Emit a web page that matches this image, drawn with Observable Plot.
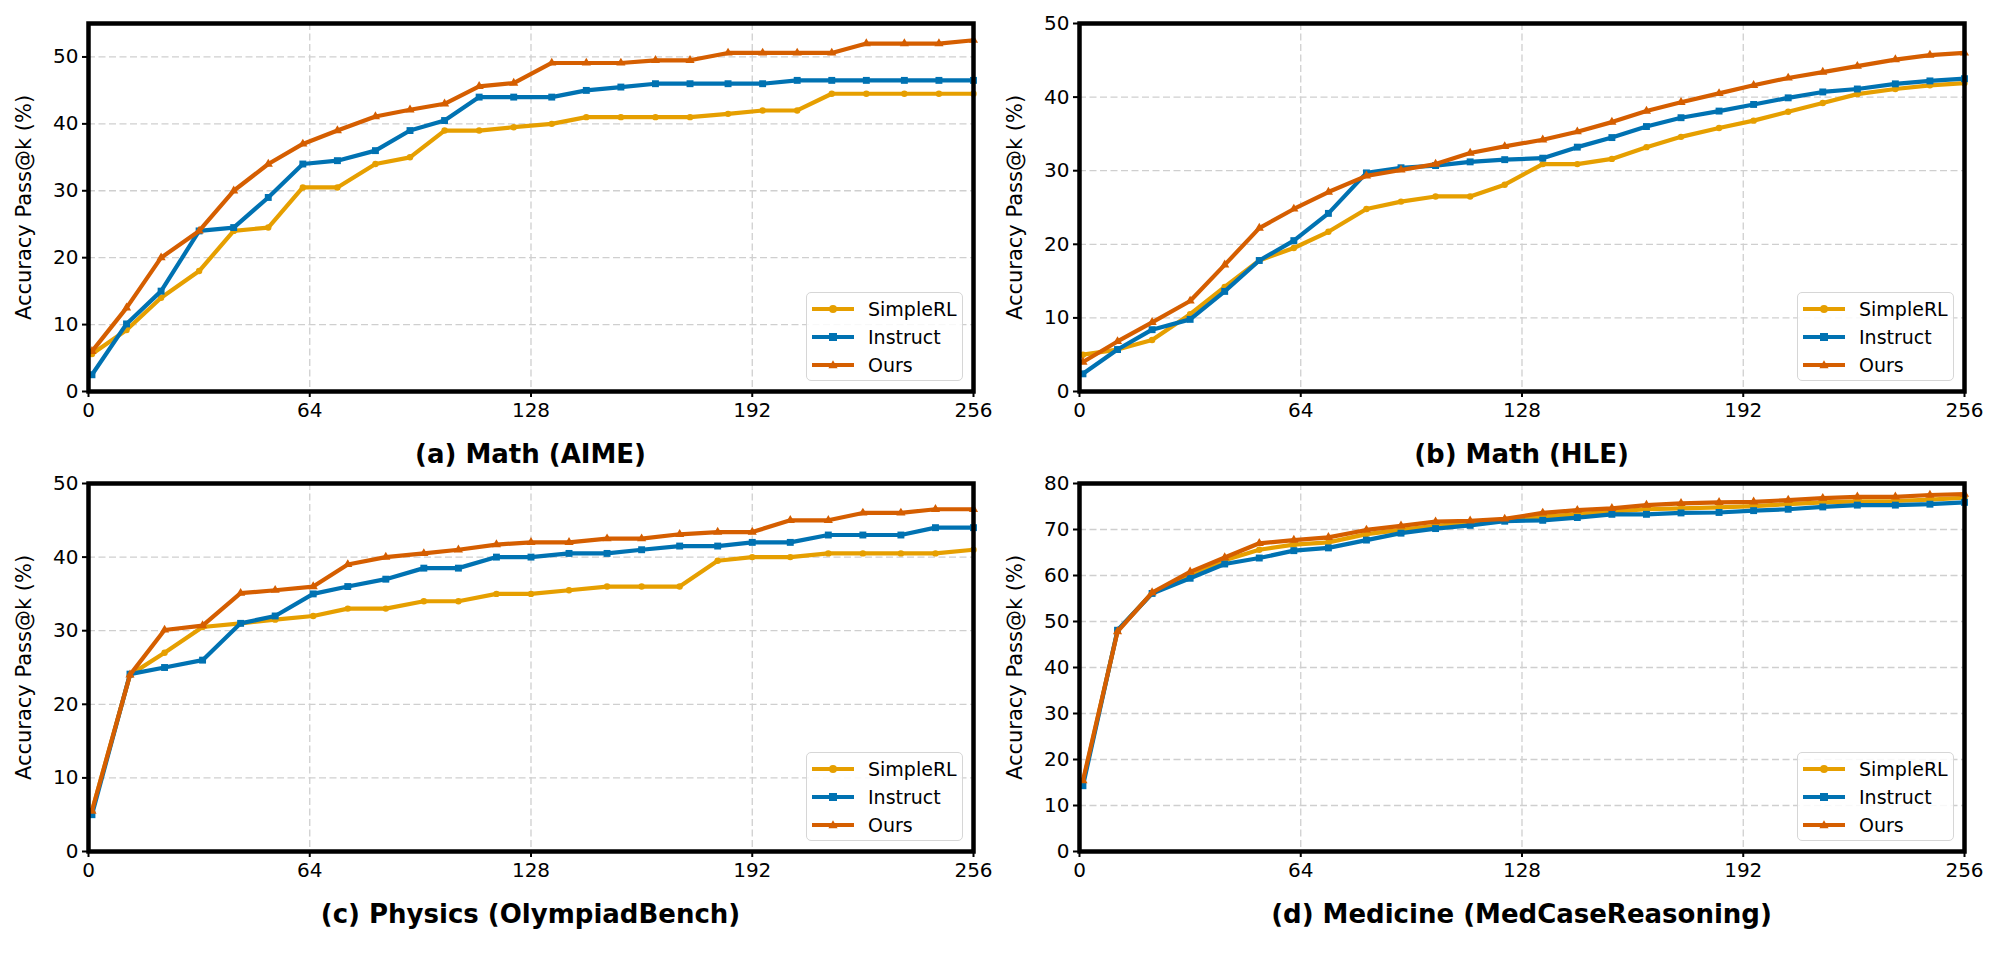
<!DOCTYPE html>
<html>
<head>
<meta charset="utf-8">
<script src="https://cdn.jsdelivr.net/npm/d3@7"></script>
<script src="https://cdn.jsdelivr.net/npm/@observablehq/plot@0.6"></script>
<style>
  html, body { margin: 0; padding: 0; background: #fff; }
  #root { position: relative; width: 2000px; height: 953px; font-family: "DejaVu Sans", sans-serif; }
  .panel { position: absolute; }
  .title { position: absolute; width: 885px; text-align: center; font-weight: bold; font-size: 26px; line-height: 30px; color: #000; }
  .legend { position: absolute; box-sizing: border-box; width: 157px; height: 89px; background: rgba(255,255,255,0.85);
            border: 1.5px solid #d6d6d6; border-radius: 5px; padding-top: 2px; }
  .legend .row { height: 28px; display: flex; align-items: center; }
  .legend svg { margin-left: 3px; margin-right: 12px; }
  .legend span { font-size: 19px; color: #000; }
</style>
</head>
<body>
<div id="root"></div>
<script>
// ---- data ----
const seriesNames = ["SimpleRL", "Instruct", "Ours"];
const seriesColors = ["#E69F00", "#0072B2", "#D55E00"];
const seriesSymbols = ["circle", "square", "triangle"];

const kValues26 = [1, 11, 21, 32, 42, 52, 62, 72, 83, 93, 103, 113, 123, 134, 144, 154, 164, 174, 185, 195, 205, 215, 225, 236, 246, 256];
const kValues25 = [1, 12, 22, 33, 44, 54, 65, 75, 86, 97, 107, 118, 128, 139, 150, 160, 171, 182, 192, 203, 214, 224, 235, 245, 256];
const xTicks = [0, 64, 128, 192, 256];

// (a) Math (AIME)
const aimeSimpleRL = [5.6, 9.2, 14, 18, 24, 24.5, 30.5, 30.5, 34, 35, 39, 39, 39.5, 40, 41, 41, 41, 41, 41.5, 42, 42, 44.5, 44.5, 44.5, 44.5, 44.5];
const aimeInstruct = [2.5, 10.1, 15, 24, 24.5, 29, 34, 34.5, 36, 39, 40.5, 44, 44, 44, 45, 45.5, 46, 46, 46, 46, 46.5, 46.5, 46.5, 46.5, 46.5, 46.5];
const aimeOurs     = [6, 12.5, 20, 24, 30, 34, 37, 39, 41.1, 42.1, 43, 45.6, 46.1, 49.1, 49.1, 49.1, 49.5, 49.5, 50.6, 50.6, 50.6, 50.6, 52, 52, 52, 52.5];
const aimeTicks = [0, 10, 20, 30, 40, 50];

// (b) Math (HLE)
const hleSimpleRL = [5.0, 5.7, 7.0, 10.5, 14.2, 17.8, 19.5, 21.7, 24.8, 25.8, 26.5, 26.5, 28.1, 30.9, 30.9, 31.6, 33.2, 34.6, 35.8, 36.8, 38.0, 39.2, 40.4, 41.1, 41.6, 41.9];
const hleInstruct = [2.4, 5.7, 8.4, 9.8, 13.6, 17.8, 20.5, 24.2, 29.7, 30.4, 30.7, 31.2, 31.5, 31.7, 33.2, 34.5, 36.0, 37.2, 38.1, 39.0, 39.9, 40.7, 41.1, 41.8, 42.2, 42.5];
const hleOurs     = [4.0, 6.8, 9.4, 12.3, 17.2, 22.2, 24.8, 27.1, 29.3, 30.1, 30.9, 32.4, 33.3, 34.2, 35.3, 36.6, 38.1, 39.3, 40.5, 41.6, 42.6, 43.4, 44.2, 45.1, 45.7, 46.0];
const hleTicks = [0, 10, 20, 30, 40, 50];

// (c) Physics (OlympiadBench)
const physSimpleRL = [5.5, 24, 27, 30.5, 31, 31.5, 32, 33, 33, 34, 34, 35, 35, 35.5, 36, 36, 36, 39.5, 40, 40, 40.5, 40.5, 40.5, 40.5, 41];
const physInstruct = [5, 24.1, 25, 26, 31, 32, 35, 36, 37, 38.5, 38.5, 40, 40, 40.5, 40.5, 41, 41.5, 41.5, 42, 42, 43, 43, 43, 44, 44];
const physOurs     = [5.5, 24, 30.1, 30.7, 35.1, 35.5, 36, 39, 40, 40.5, 41, 41.7, 42, 42, 42.5, 42.5, 43.1, 43.4, 43.4, 45, 45, 46, 46, 46.5, 46.5];
const physTicks = [0, 10, 20, 30, 40, 50];

// (d) Medicine (MedCaseReasoning)
const medSimpleRL = [15.0, 48.0, 56.2, 60.2, 63.3, 65.6, 66.7, 67.2, 69.0, 69.9, 70.8, 71.4, 72.0, 72.8, 73.3, 73.9, 74.4, 74.6, 74.8, 75.1, 75.5, 75.9, 76.1, 76.2, 76.5, 76.9];
const medInstruct = [14.3, 48.1, 56.1, 59.4, 62.5, 63.8, 65.4, 66.0, 67.7, 69.2, 70.2, 70.9, 71.8, 72.0, 72.6, 73.3, 73.3, 73.6, 73.7, 74.1, 74.4, 74.9, 75.3, 75.3, 75.5, 75.9];
const medOurs     = [15.4, 47.8, 56.3, 60.8, 63.9, 67.0, 67.7, 68.3, 69.9, 70.8, 71.7, 71.9, 72.3, 73.6, 74.2, 74.6, 75.3, 75.7, 75.9, 76.0, 76.4, 76.8, 77.1, 77.1, 77.5, 77.7];
const medTicks = [0, 10, 20, 30, 40, 50, 60, 70, 80];

const panels = [
  {title: "(a) Math (AIME)", k: kValues26, series: [aimeSimpleRL, aimeInstruct, aimeOurs], yMax: 55, yTicks: aimeTicks, left: 0, top: 0},
  {title: "(b) Math (HLE)", k: kValues26, series: [hleSimpleRL, hleInstruct, hleOurs], yMax: 50, yTicks: hleTicks, left: 991, top: 0},
  {title: "(c) Physics (OlympiadBench)", k: kValues25, series: [physSimpleRL, physInstruct, physOurs], yMax: 50, yTicks: physTicks, left: 0, top: 460},
  {title: "(d) Medicine (MedCaseReasoning)", k: kValues26, series: [medSimpleRL, medInstruct, medOurs], yMax: 80, yTicks: medTicks, left: 991, top: 460}
];

// ---- layout ----
const W = 1000, mL = 88, mR = 27, mT = 23, plotH = 368, mB = 45;
const H = mT + plotH + mB;
const root = document.getElementById("root");
const gridStyle = {stroke: "#cfcfcf", strokeOpacity: 1, strokeWidth: 1.3, strokeDasharray: "7,3.5"};

panels.forEach(p => {
  const marks = [
    Plot.gridX(xTicks.slice(1, -1), gridStyle),
    Plot.gridY(p.yTicks.slice(1, p.yMax === p.yTicks[p.yTicks.length - 1] ? -1 : undefined), gridStyle)
  ];
  p.series.forEach((vals, si) => {
    const rows = vals.map((v, i) => ({k: p.k[i], v}));
    marks.push(Plot.line(rows, {x: "k", y: "v", stroke: seriesColors[si], strokeWidth: 4.2, strokeLinejoin: "round"}));
    marks.push(Plot.dot(rows, {x: "k", y: "v", fill: seriesColors[si], stroke: "none",
      symbol: seriesSymbols[si], r: si === 0 ? 3.2 : si === 1 ? 3.9 : 3.4}));
  });
  marks.push(Plot.frame({stroke: "#000", strokeWidth: 4.5}));
  marks.push(Plot.axisX(xTicks, {tickSize: 6, tickPadding: 5, strokeWidth: 2, label: null, fontSize: 20}));
  marks.push(Plot.axisY(p.yTicks, {tickSize: 6, tickPadding: 4, strokeWidth: 2, label: null, fontSize: 20}));
  marks.push(Plot.text(["Accuracy Pass@k (%)"], {frameAnchor: "left", textAnchor: "middle", lineAnchor: "middle",
    rotate: -90, dx: -64, fontSize: 21, fill: "#000"}));

  const chart = Plot.plot({
    width: W, height: H,
    marginLeft: mL, marginRight: mR, marginTop: mT, marginBottom: mB,
    style: {fontFamily: "DejaVu Sans", fontSize: "20px", color: "#000", background: "transparent", overflow: "visible"},
    x: {domain: [0, 256]},
    y: {domain: [0, p.yMax]},
    marks
  });
  chart.classList.add("panel");
  chart.style.left = p.left + "px";
  chart.style.top = p.top + "px";
  root.appendChild(chart);

  const plotLeft = p.left + mL, plotTop = p.top + mT;
  const t = document.createElement("div");
  t.className = "title";
  t.textContent = p.title;
  t.style.left = plotLeft + "px";
  t.style.top = (plotTop + plotH + 48) + "px";
  root.appendChild(t);

  const lg = document.createElement("div");
  lg.className = "legend";
  lg.style.left = (plotLeft + 885 - 10 - 157) + "px";
  lg.style.top = (plotTop + plotH - 10 - 89) + "px";
  seriesNames.forEach((name, si) => {
    const row = document.createElement("div");
    row.className = "row";
    const c = seriesColors[si];
    let marker;
    if (si === 0) marker = `<circle cx="23" cy="8" r="4" fill="${c}"/>`;
    else if (si === 1) marker = `<rect x="19" y="4" width="8" height="8" fill="${c}"/>`;
    else marker = `<path d="M23,3.2 L27.6,11.2 L18.4,11.2 Z" fill="${c}"/>`;
    row.innerHTML = `<svg width="46" height="16" viewBox="0 0 46 16"><line x1="2" y1="8" x2="44" y2="8" stroke="${c}" stroke-width="4.2"/>${marker}</svg><span>${name}</span>`;
    lg.appendChild(row);
  });
  root.appendChild(lg);
});
</script>
</body>
</html>
